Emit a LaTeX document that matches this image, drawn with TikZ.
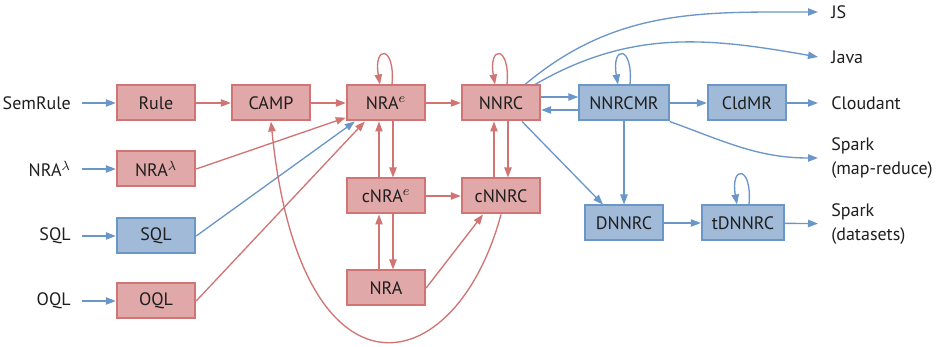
\documentclass[tikz,border=0pt]{standalone}
\usepackage{fontspec}
\setmainfont{PT Sans}
\usetikzlibrary{arrows.meta}

\definecolor{redfill}{RGB}{224,168,168}
\definecolor{redline}{RGB}{208,116,116}
\definecolor{bluefill}{RGB}{160,186,216}
\definecolor{blueline}{RGB}{106,150,200}
\definecolor{ink}{RGB}{30,30,30}

\tikzset{
  lang/.style={draw, line width=1.2pt, minimum width=47pt, minimum height=21pt,
    inner xsep=6pt, text=ink},
  redlang/.style={lang, draw=redline, fill=redfill},
  bluelang/.style={lang, draw=blueline, fill=bluefill},
  inlabel/.style={anchor=east, inner xsep=6.6pt, inner ysep=1pt, text=ink},
  outlabel/.style={anchor=west, inner xsep=7.8pt, inner ysep=1pt, align=left, text=ink},
  tip/.style={-{Triangle[length=6pt,width=4.4pt]}},
  redarr/.style={draw=redline, line width=0.8pt, tip},
  bluearr/.style={draw=blueline, line width=0.8pt, tip},
  loopup/.style={out=85, in=100, distance=24pt},
}

\begin{document}
\begin{tikzpicture}[x=0.6pt, y=-0.6pt, font=\fontsize{10.8}{14}\selectfont]
\useasboundingbox (0,0) rectangle (937,347);

% source languages
\node[redlang] (rule) at (156,103) {Rule};
\node[redlang] (nral) at (156,169) {NRA$^\lambda$};
\node[bluelang] (sql) at (156,236) {SQL};
\node[redlang] (oql) at (156,301) {OQL};

\foreach \n/\t/\y in {rule/SemRule/103, nral/NRA$^\lambda$/169, sql/SQL/236, oql/OQL/301}
 {
   \node[inlabel] (in\n) at (82,\y) {\t};
   \draw[bluearr] (in\n) -- (\n);
 }

% intermediate languages
\node[redlang] (camp) at (271,103) {CAMP};
\node[redlang] (nrae) at (386,103) {NRA$^e$};
\node[redlang] (nnrc) at (501,103) {NNRC};
\node[redlang] (cnrae) at (386,196) {cNRA$^e$};
\node[redlang] (cnnrc) at (501,196) {cNNRC};
\node[redlang] (nra) at (386,288) {NRA};

\node[bluelang] (nnrcmr) at (624,103) {NNRCMR};
\node[bluelang] (cldmr) at (747,103) {CldMR};
\node[bluelang] (dnnrc) at (624,223) {DNNRC};
\node[bluelang] (tdnnrc) at (743,223) {tDNNRC};

% targets
\node[outlabel] (js) at (818,12) {JS};
\node[outlabel] (java) at (818,57) {Java};
\node[outlabel] (cloudant) at (818,103) {Cloudant};
\node[outlabel] (sparkmr) at (818,158) {Spark\\(map-reduce)};
\node[outlabel] (sparkds) at (818,224) {Spark\\(datasets)};

% red part
\draw[redarr] (rule) -- (camp);
\draw[redarr] (camp) -- (nrae);
\draw[redarr] (nrae) -- (nnrc);
\draw[redarr] (nral.east) -- (nrae.200);
\draw[bluearr] (sql.east) -- ([xshift=5.4pt]nrae.south west);
\draw[redarr] (oql.east) -- ([xshift=11.4pt]nrae.south west);

\draw[redarr] ([xshift=-4.2pt]cnrae.north) -- ([xshift=-4.2pt]nrae.south);
\draw[redarr] ([xshift=4.2pt]nrae.south) -- ([xshift=4.2pt]cnrae.north);
\draw[redarr] ([xshift=-4.2pt]nra.north) -- ([xshift=-4.2pt]cnrae.south);
\draw[redarr] ([xshift=4.2pt]cnrae.south) -- ([xshift=4.2pt]nra.north);
\draw[redarr] ([xshift=-4.2pt]cnnrc.north) -- ([xshift=-4.2pt]nnrc.south);
\draw[redarr] ([xshift=4.2pt]nnrc.south) -- ([xshift=4.2pt]cnnrc.north);
\draw[redarr] (cnrae) -- (cnnrc);
\draw[redarr] (nra.east) -- ([xshift=-10.8pt]cnnrc.south);
\draw[redarr] (cnnrc.south) .. controls (455,385) and (300,412) .. (camp.south);

\draw[redarr] ([xshift=3.6pt]nrae.north) to[loopup] ([xshift=-3.6pt]nrae.north);
\draw[redarr] ([xshift=3.6pt]nnrc.north) to[loopup] ([xshift=-3.6pt]nnrc.north);

% blue part
\draw[bluearr] ([yshift=3.6pt]nnrc.east) -- ([yshift=3.6pt]nnrcmr.west);
\draw[bluearr] ([yshift=-4.2pt]nnrcmr.west) -- ([yshift=-4.2pt]nnrc.east);
\draw[bluearr] (nnrcmr) -- (cldmr);
\draw[bluearr] (cldmr) -- (cloudant);
\draw[bluearr] (nnrcmr) -- (dnnrc);
\draw[bluearr] ([xshift=12.6pt]nnrc.south) -- ([xshift=-12.6pt]dnnrc.north);
\draw[bluearr] (dnnrc) -- (tdnnrc);
\draw[bluearr] (tdnnrc) -- (sparkds);
\draw[bluearr] ([xshift=3.6pt]nnrcmr.north) to[loopup] ([xshift=-3.6pt]nnrcmr.north);
\draw[bluearr] ([xshift=3.6pt]tdnnrc.north) to[loopup] ([xshift=-3.6pt]tdnnrc.north);

\draw[bluearr] ([xshift=14.4pt]nnrc.north) to[out=40, in=180] (js.west);
\draw[bluearr] ([xshift=20.4pt]nnrc.north) to[out=30, in=170] (java.west);
\draw[bluearr] (nnrcmr.south east) to[out=-20, in=180] (sparkmr.west);

\end{tikzpicture}
\end{document}
